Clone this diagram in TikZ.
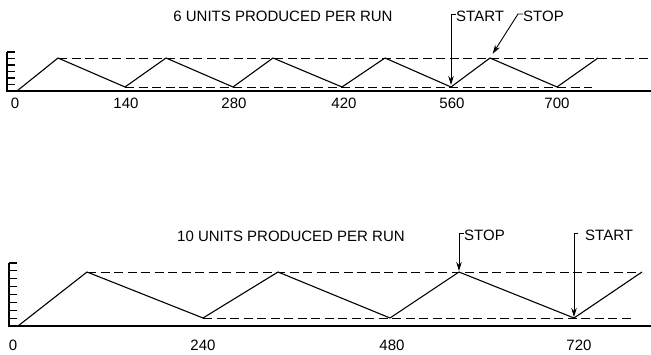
\documentclass[tikz,border=0pt]{standalone}
\usepackage{fontspec}
\setmainfont{Liberation Sans}
\usetikzlibrary{arrows.meta}
\begin{document}
\begin{tikzpicture}[x=1pt,y=-1pt,
  lbl/.style={font=\fontsize{15}{17}\selectfont, inner sep=0pt},
  curve/.style={line width=1.1pt, line join=round},
  guide/.style={line width=0.9pt, dash pattern=on 9pt off 4.5pt},
  axisline/.style={line width=1.1pt},
  pointer/.style={line width=0.9pt, -{Stealth[length=9pt,width=5.5pt]}}]
\useasboundingbox (0,0) rectangle (651,355);

% ---------- top chart ----------
\coordinate (t0) at (17,91);
\coordinate (tp1) at (58,58);   \coordinate (tv1) at (125,87);
\coordinate (tp2) at (166,58);  \coordinate (tv2) at (233,87);
\coordinate (tp3) at (273,58);  \coordinate (tv3) at (342,87);
\coordinate (tp4) at (385,58);  \coordinate (tv4) at (451,87);
\coordinate (tp5) at (490,58);  \coordinate (tv5) at (557,87);
\coordinate (tp6) at (598,58);
\coordinate (taxtop) at (7,52);
\coordinate (taxo) at (7,91);
\coordinate (taxend) at (651,91);
\coordinate (tdend) at (651,58);
\coordinate (tbend) at (592,87);

\draw[axisline] (taxtop) -- (taxo) -- (taxend);
\foreach \y in {52,58.5,65,71.5,78,84.5} \draw[axisline] (7,\y) -- (15,\y);
\draw[guide] (tp1) -- (tdend);
\draw[guide] (tv1) -- (tbend);
\draw[curve] (t0) -- (tp1) -- (tv1) -- (tp2) -- (tv2) -- (tp3) -- (tv3)
  -- (tp4) -- (tv4) -- (tp5) -- (tv5) -- (tp6);

\node[lbl] (tl0) at (15,103) {0};
\node[lbl] (tl1) at (126,103) {140};
\node[lbl] (tl2) at (234,103) {280};
\node[lbl] (tl3) at (344,103) {420};
\node[lbl] (tl4) at (452,103) {560};
\node[lbl] (tl5) at (557,103) {700};

\node[lbl] (ttitle) at (283,16) {6 UNITS PRODUCED PER RUN};

\node[lbl, anchor=west] (tstart) at (456,16) {START};
\node[lbl, anchor=west] (tstop) at (523,16) {STOP};
\draw[pointer, shorten >=2pt] (tstart.west) ++(0,-2) -- ++(-5,0) -- (tv4);
\draw[pointer, shorten >=5pt] (tstop.west) ++(0,-2) -- ++(-5,0) -- (tp5);

% ---------- bottom chart ----------
\coordinate (b0) at (18,326);
\coordinate (bp1) at (87,272);   \coordinate (bv1) at (203,318);
\coordinate (bp2) at (278,272);  \coordinate (bv2) at (390,318);
\coordinate (bp3) at (459,272);  \coordinate (bv3) at (574,318);
\coordinate (bp4) at (642,272);
\coordinate (baxtop) at (9,263);
\coordinate (baxo) at (9,326);
\coordinate (baxend) at (651,326);
\coordinate (bdend) at (642,272);
\coordinate (bbend) at (633,318);

\draw[axisline] (baxtop) -- (baxo) -- (baxend);
\foreach \k in {0,...,7} \draw[axisline] (9,263+\k*7.875) -- (17,263+\k*7.875);
\draw[guide] (bp1) -- (bdend);
\draw[guide] (bv1) -- (bbend);
\draw[curve] (b0) -- (bp1) -- (bv1) -- (bp2) -- (bv2) -- (bp3) -- (bv3) -- (bp4);

\node[lbl] (bl0) at (13,345) {0};
\node[lbl] (bl1) at (203,345) {240};
\node[lbl] (bl2) at (392,345) {480};
\node[lbl] (bl3) at (579,345) {720};

\node[lbl] (btitle) at (291,236) {10 UNITS PRODUCED PER RUN};

\node[lbl, anchor=west] (bstop) at (464,235) {STOP};
\node[lbl, anchor=west] (bstart) at (585,235) {START};
\draw[pointer, shorten >=1pt] (bstop.west) ++(0,-2) -- ++(-5,0) -- (bp3);
\coordinate (bhook) at (578,233);
\draw[pointer, shorten >=1pt] (bhook) -- ++(-4,0) -- (bv3);
\end{tikzpicture}
\end{document}
